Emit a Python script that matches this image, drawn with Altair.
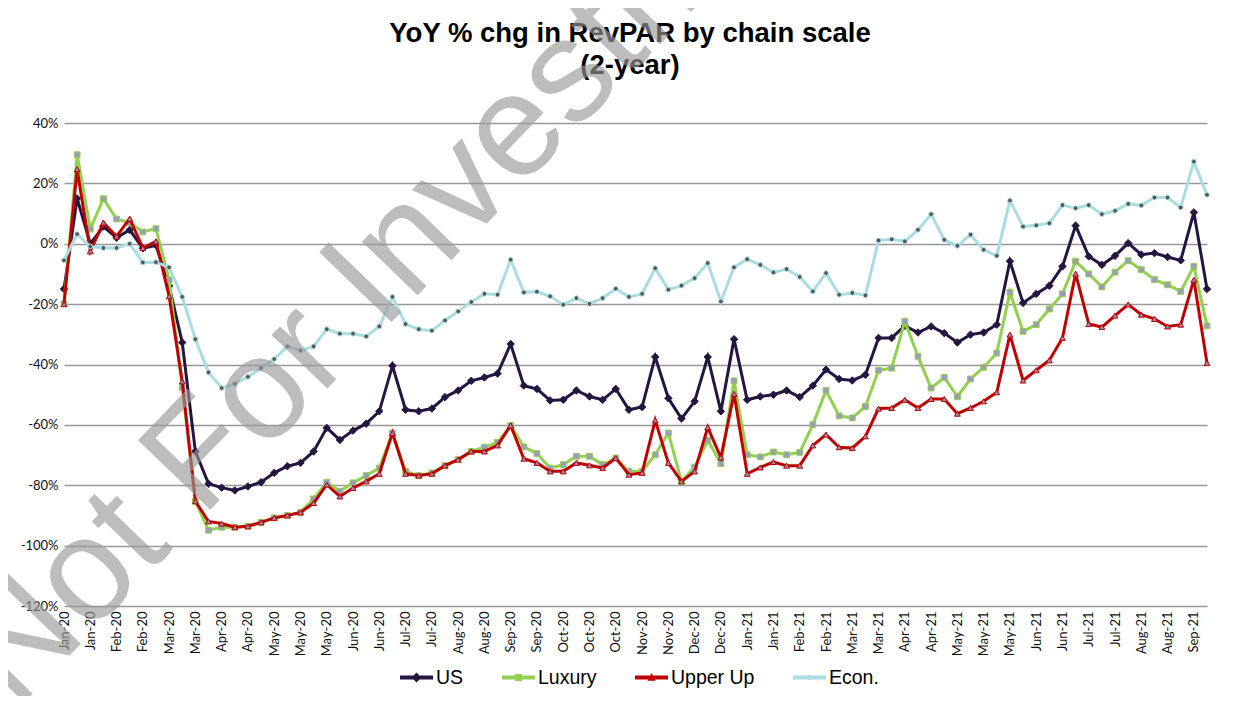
import altair as alt
import pandas as pd

series_names = ["US", "Luxury", "Upper Up", "Econ."]

week_labels = [
    "Jan-20", "Jan-20", "Feb-20", "Feb-20", "Mar-20", "Mar-20", "Apr-20", "Apr-20",
    "May-20", "May-20", "May-20", "Jun-20", "Jun-20", "Jul-20", "Jul-20",
    "Aug-20", "Aug-20", "Sep-20", "Sep-20", "Oct-20", "Oct-20", "Oct-20",
    "Nov-20", "Nov-20", "Dec-20", "Dec-20", "Jan-21", "Jan-21",
    "Feb-21", "Feb-21", "Mar-21", "Mar-21", "Apr-21", "Apr-21",
    "May-21", "May-21", "May-21", "Jun-21", "Jun-21", "Jul-21", "Jul-21",
    "Aug-21", "Aug-21", "Sep-21",
]

us = [-15, 15, 0, 5.7, 2, 4.6, -1.5, -0.5, -14, -32.7,
      -68.8, -79.5, -80.8, -81.7, -80.4, -79, -75.9, -73.7, -72.6, -68.8,
      -61, -65, -61.9, -59.6, -55.5, -40.4, -55, -55.5, -54.6, -50.8,
      -48.6, -45.4, -44.3, -43, -33.2, -47, -48.1, -51.9, -51.7, -48.6,
      -50.6, -51.7, -48.1, -55, -54.1, -37.5, -51.2, -57.9, -52.2, -37.5,
      -55.5, -31.6, -51.7, -50.6, -50, -48.6, -50.8, -47, -41.7, -44.8,
      -45.3, -43.4, -31.2, -31.2, -27.2, -29.4, -27.4, -29.6, -32.7, -30.1,
      -29.4, -26.8, -5.8, -19.6, -16.6, -13.9, -7.5, 6, -4.2, -7,
      -4, 0.2, -3.6, -3.1, -4.4, -5.5, 10.4, -15]

luxury = [-19.9, 29.5, 4.9, 14.9, 8.2, 7, 3.9, 5, -12, -47.7,
          -85.3, -94.9, -93.9, -93.9, -93.6, -92.3, -90.8, -90, -89, -84.5,
          -79, -82, -79.2, -76.8, -74.3, -62.7, -75.4, -76.8, -75.9, -73.5,
          -71.5, -68.8, -67.4, -65.8, -60.2, -67.3, -69.5, -74.3, -73.2, -70.4,
          -70.4, -73.2, -71, -75.4, -75.4, -69.9, -62.7, -78.7, -74, -65.1,
          -72.8, -45.4, -69.9, -70.6, -69, -69.9, -69.1, -59.9, -48.6, -57,
          -57.7, -53.9, -41.9, -41.2, -25.7, -37.3, -47.8, -44.3, -50.6, -44.8,
          -40.9, -36.2, -16.1, -29, -26.8, -21.6, -16.6, -5.8, -10, -14.3,
          -9.4, -5.6, -8.6, -11.9, -13.6, -15.8, -7.5, -27.2]

upper_up = [-20, 24.7, -2.5, 7, 2.4, 8.3, -1.4, 0.8, -17.4, -45.6,
            -85.3, -92, -92.7, -93.9, -93.6, -92.3, -90.8, -90, -89, -85.9,
            -79.8, -83.7, -80.9, -78.7, -76.2, -62.7, -76.2, -76.8, -76.2, -73.5,
            -71.5, -68.8, -68.8, -66.8, -60.2, -71.2, -72.6, -75.4, -75.4, -72.6,
            -73.4, -74.3, -71, -76.5, -75.9, -58.5, -72.6, -78.7, -75.4, -60.8,
            -70.8, -49.7, -76.2, -74.1, -72.3, -73.5, -73.5, -66.8, -63.2, -67.4,
            -67.7, -63.8, -54.6, -54.4, -51.7, -54.4, -51.4, -51.4, -56.3, -54.4,
            -52.2, -49.2, -30.1, -45.3, -41.9, -38.6, -31.2, -9.9, -26.6, -27.6,
            -23.8, -20.1, -23.5, -24.9, -27.4, -26.8, -11.9, -39.5]

econ = [-5.5, 3.2, -0.9, -1.4, -1.4, 0, -6.2, -6.1, -7.8, -17.6,
        -31.6, -42.6, -47.8, -46.4, -44.1, -41.2, -38.2, -34, -35.4, -34,
        -28.3, -29.8, -29.8, -30.7, -27.4, -17.6, -26.6, -28.3, -28.8, -25.4,
        -22.4, -19.3, -16.6, -16.9, -5.3, -16.1, -15.9, -17.4, -20.2, -18,
        -19.9, -18, -14.9, -17.6, -16.6, -8.1, -15.2, -13.9, -11.4, -6.4,
        -19.1, -7.8, -5.1, -7, -9.5, -8.4, -11, -15.8, -9.7, -16.9,
        -16.3, -17.1, 1.1, 1.5, 0.8, 4.6, 9.8, 1.3, -0.7, 3,
        -2, -4, 14.3, 5.7, 6.1, 6.8, 12.8, 11.8, 12.8, 9.8,
        10.9, 13.2, 12.7, 15.3, 15.3, 12, 27.2, 16.2]

title_lines = ["YoY % chg in RevPAR by chain scale", "(2-year)"]
watermark_text = "Not For Investment"

line_colors = ["#241640", "#92D050", "#C00000", "#A9DDE1"]
marker_fill = ["#241640", "#9C9CB8", "#8E8FB0", "#555555"]
marker_shape = ["diamond", "square", "triangle-up", "circle"]
marker_size = [55, 34, 34, 22]
legend_paths = [
    "M-1,-0.12H1V0.12H-1Z M0,-0.3L0.3,0L0,0.3L-0.3,0Z",
    "M-1,-0.12H1V0.12H-1Z M-0.21,-0.21H0.21V0.21H-0.21Z",
    "M-1,-0.12H1V0.12H-1Z M0,-0.28L0.25,0.19H-0.25Z",
    "M-1,-0.12H1V0.12H-1Z M-0.17,0A0.17,0.17 0 1,1 0.17,0A0.17,0.17 0 1,1 -0.17,0Z",
]

rows = []
for name, vals in zip(series_names, [us, luxury, upper_up, econ]):
    for i, v in enumerate(vals):
        rows.append({"idx": i, "series": name, "value": v})
df = pd.DataFrame(rows)
n = len(us)

label_expr = "[" + ",".join("'" + s + "'" for s in week_labels) + "][round(datum.value / 2)]"

x_enc = alt.X(
    "idx:Q",
    scale=alt.Scale(domain=[0, n - 1], nice=False, zero=False),
    axis=alt.Axis(
        values=list(range(0, n - 1, 2)), labelExpr=label_expr, labelAngle=-90,
        title=None, domain=False, ticks=False, grid=False, labelFont="Lato",
        labelFontSize=13, labelPadding=5, labelColor="#111", labelOverlap=False,
        labelFlush=False,
    ),
)
y_enc = alt.Y(
    "value:Q",
    scale=alt.Scale(domain=[-120, 40], nice=False, zero=False),
    axis=alt.Axis(
        values=list(range(-120, 41, 20)), labelExpr="datum.value + '%'",
        title=None, domain=False, ticks=False, grid=True, gridColor="#999999",
        gridWidth=1.4, labelFont="Lato", labelFontSize=13, labelPadding=6,
        labelColor="#111",
    ),
)

base = alt.Chart(df).encode(x=x_enc, y=y_enc)

layers = []
for k, name in enumerate(series_names):
    sub = base.transform_filter(alt.datum.series == name)
    layers.append(sub.mark_line(color=line_colors[k], strokeWidth=3))
    layers.append(
        sub.mark_point(
            shape=marker_shape[k], filled=True, size=marker_size[k],
            fill=marker_fill[k], stroke=line_colors[k], strokeWidth=1, opacity=1,
        )
    )

legend_props = dict(
    title=None, orient="none", direction="horizontal", legendX=336,
    legendY=538, symbolSize=1089, labelFont="Liberation Sans",
    labelFontSize=19.5, labelColor="#000", labelOffset=3,
    columnPadding=38, symbolStrokeWidth=0, padding=0,
)
legend_layer = base.transform_filter("false").mark_point(filled=True, opacity=1).encode(
    color=alt.Color(
        "series:N",
        scale=alt.Scale(domain=series_names, range=line_colors),
        legend=alt.Legend(**legend_props),
    ),
    shape=alt.Shape(
        "series:N",
        scale=alt.Scale(domain=series_names, range=legend_paths),
        legend=alt.Legend(**legend_props),
    ),
)
layers.append(legend_layer)

for i, t in enumerate(title_lines):
    layers.append(
        alt.Chart(pd.DataFrame({"t": [t]})).mark_text(
            font="Liberation Sans", fontWeight="bold", fontSize=27.5, color="#000",
            align="center", baseline="alphabetic",
        ).encode(text="t:N", x=alt.value(566), y=alt.value(-81 + 32 * i))
    )

layers.append(
    alt.Chart(pd.DataFrame({"t": [watermark_text]})).mark_text(
        font="Liberation Sans", fontSize=146, color="#989898", opacity=0.64,
        align="left", baseline="alphabetic", angle=314,
    ).encode(text="t:N", x=alt.value(-48), y=alt.value(588))
)

chart = alt.layer(*layers).properties(
    width=1143, height=483,
    padding={"left": 56, "top": 115, "right": 35, "bottom": 90},
    autosize=alt.AutoSizeParams(type="none"),
    background="white",
).configure_view(stroke=None)

chart.save("out.html", embed_options={"renderer": "svg", "actions": False})
